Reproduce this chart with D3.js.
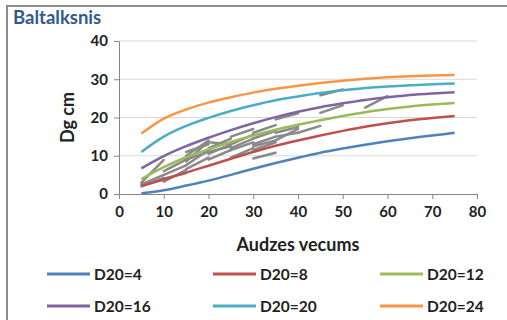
<!DOCTYPE html>
<html>
<head>
<meta charset="utf-8">
<script src="https://cdn.jsdelivr.net/npm/d3@7"></script>
<style>
  body { margin: 0; background: #fff; }
  text { font-family: Lato, "Open Sans", sans-serif; font-weight: bold; }
</style>
</head>
<body>
<div id="chart"></div>
<script>
// chart data
let ages = [5, 10, 15, 20, 25, 30, 35, 40, 45, 50, 55, 60, 65, 70, 75];
let seriesNames = ["D20=4", "D20=8", "D20=12", "D20=16", "D20=20", "D20=24"];
let seriesColors = ["#4F81BD", "#C0504D", "#9BBB59", "#8064A2", "#4BACC6", "#F79646"];
let d20_4  = [0.2, 1.0, 2.2, 3.5, 5.0, 6.6, 8.1, 9.5, 10.8, 11.9, 12.9, 13.8, 14.6, 15.3, 16.0];
let d20_8  = [2.1, 3.8, 5.6, 7.4, 9.2, 11.0, 12.6, 14.0, 15.3, 16.5, 17.6, 18.5, 19.3, 19.9, 20.4];
let d20_12 = [3.9, 7.0, 9.6, 11.7, 13.6, 15.3, 16.8, 18.1, 19.3, 20.4, 21.4, 22.2, 22.9, 23.4, 23.8];
let d20_16 = [6.7, 9.9, 12.5, 14.7, 16.7, 18.5, 20.1, 21.5, 22.7, 23.7, 24.6, 25.3, 25.9, 26.3, 26.6];
let d20_20 = [11.0, 15.0, 17.8, 19.9, 21.7, 23.2, 24.5, 25.5, 26.4, 27.1, 27.7, 28.1, 28.4, 28.7, 28.9];
let d20_24 = [15.8, 19.7, 22.1, 23.9, 25.3, 26.5, 27.5, 28.3, 29.0, 29.6, 30.1, 30.5, 30.8, 31.0, 31.1];
let seriesValues = [d20_4, d20_8, d20_12, d20_16, d20_20, d20_24];

// measured stands: [age1, dg1, age2, dg2]
let observed = [
  [5, 2.5, 10, 5.0], [5, 3.0, 10, 8.9], [5, 2.0, 10, 4.2],
  [10, 3.2, 15, 6.3], [10, 5.0, 15, 7.5], [10, 6.0, 15, 9.0], [10, 4.0, 15, 5.5],
  [15, 7.5, 20, 11.5], [15, 8.5, 20, 13.8], [15, 10.0, 20, 14.0],
  [15, 9.0, 20, 11.0], [15, 6.5, 20, 9.5], [15, 11.0, 20, 13.0],
  [20, 10.5, 25, 13.0], [20, 12.0, 25, 14.5], [20, 9.0, 25, 11.5], [20, 13.5, 25, 13.0],
  [20, 11.0, 25, 12.5],
  [25, 11.5, 30, 13.5], [25, 13.0, 30, 15.5], [25, 15.0, 30, 17.0], [25, 9.5, 30, 12.0],
  [25, 12.0, 30, 14.5],
  [30, 13.0, 35, 15.0], [30, 14.5, 35, 16.5], [30, 9.3, 35, 10.8], [30, 16.0, 35, 18.0],
  [30, 11.5, 35, 13.5], [30, 12.5, 35, 14.0],
  [35, 14.0, 40, 17.0], [35, 16.0, 40, 17.5], [35, 19.5, 40, 21.1], [35, 15.0, 40, 16.0],
  [40, 16.0, 45, 17.8], [45, 21.2, 50, 23.2], [45, 25.8, 50, 27.3], [55, 22.6, 60, 25.6]
];

let xTicks = [0, 10, 20, 30, 40, 50, 60, 70, 80];
let yTicks = [0, 10, 20, 30, 40];

let width = 507, height = 320;
let margin = {top: 41, left: 119, right: 30, bottom: 126};

let svg = d3.select("#chart").append("svg")
    .attr("width", width)
    .attr("height", height);

// outer frame
svg.append("rect")
    .attr("x", 7).attr("y", 6)
    .attr("width", 530).attr("height", 340)
    .attr("fill", "none")
    .attr("stroke", "#8c8c8c")
    .attr("stroke-width", 2);

let x = d3.scaleLinear().domain([0, 80]).range([margin.left, width - margin.right]);
let y = d3.scaleLinear().domain([0, 40]).range([height - margin.bottom, margin.top]);

// grid
svg.append("g")
    .selectAll("line")
    .data(yTicks.filter(d => d > 0))
    .enter()
    .append("line")
    .attr("x1", x(0)).attr("x2", x(80))
    .attr("y1", d => y(d)).attr("y2", d => y(d))
    .attr("stroke", "#d9d9d9")
    .attr("stroke-width", 1);

// axes
let xAxis = svg.append("g")
    .attr("transform", "translate(0," + y(0) + ")")
    .call(d3.axisBottom(x).tickValues(xTicks).tickSize(5).tickSizeOuter(0).tickPadding(7));
let yAxis = svg.append("g")
    .attr("transform", "translate(" + x(0) + ",0)")
    .call(d3.axisLeft(y).tickValues(yTicks).tickSize(5).tickSizeOuter(0).tickPadding(6));

[xAxis, yAxis].forEach(function(a) {
    a.select(".domain").attr("stroke", "#868686");
    a.selectAll(".tick line").attr("stroke", "#868686");
    a.selectAll("text")
        .attr("fill", "#222")
        .style("font-size", "15px")
        .style("font-family", "Lato, sans-serif")
        .style("font-weight", "bold");
});

// observed stand segments
svg.append("g")
    .selectAll("line")
    .data(observed)
    .enter()
    .append("line")
    .attr("x1", d => x(d[0])).attr("y1", d => y(d[1]))
    .attr("x2", d => x(d[2])).attr("y2", d => y(d[3]))
    .attr("stroke", "#8a8a8a")
    .attr("stroke-width", 2.5)
    .attr("stroke-linecap", "round");

// model curves
let line = d3.line()
    .x((d, i) => x(ages[i]))
    .y(d => y(d))
    .curve(d3.curveMonotoneX);

svg.append("g")
    .selectAll("path")
    .data(seriesValues)
    .enter()
    .append("path")
    .attr("d", line)
    .attr("fill", "none")
    .attr("stroke", (d, i) => seriesColors[i])
    .attr("stroke-width", 2.5);

// titles
svg.append("text")
    .attr("x", 13).attr("y", 24)
    .attr("fill", "#2f5b8c")
    .style("font-size", "18.5px")
    .text("Baltalksnis");

svg.append("text")
    .attr("transform", "translate(74," + y(20) + ") rotate(-90)")
    .attr("text-anchor", "middle")
    .attr("fill", "#222")
    .style("font-size", "18px")
    .text("Dg cm");

svg.append("text")
    .attr("x", x(40)).attr("y", 251)
    .attr("text-anchor", "middle")
    .attr("fill", "#222")
    .style("font-size", "18px")
    .text("Audzes vecums");

// legend
let legendX = [47, 213, 380];
let legendY = [274, 306];
let legend = svg.append("g")
    .selectAll("g")
    .data(seriesNames)
    .enter()
    .append("g")
    .attr("transform", (d, i) => "translate(" + legendX[i % 3] + "," + legendY[Math.floor(i / 3)] + ")");

legend.append("line")
    .attr("x1", 0).attr("x2", 43)
    .attr("y1", 0).attr("y2", 0)
    .attr("stroke", (d, i) => seriesColors[i])
    .attr("stroke-width", 3);

legend.append("text")
    .attr("x", 47).attr("y", 5.5)
    .attr("fill", "#222")
    .style("font-size", "15.5px")
    .text(d => d);
</script>
</body>
</html>
